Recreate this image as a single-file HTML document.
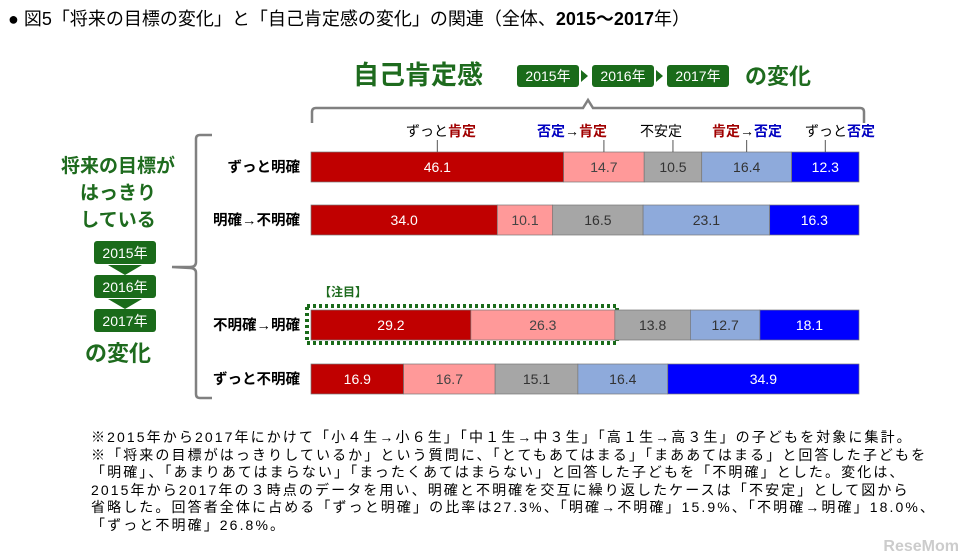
<!DOCTYPE html>
<html><head><meta charset="utf-8"><style>
body{margin:0;background:#fff;}
svg{display:block;font-family:"Liberation Sans","Noto Sans CJK JP",sans-serif;}
.note{position:absolute;left:91px;top:429px;font-family:"Liberation Sans","Noto Sans CJK JP",sans-serif;font-size:14px;letter-spacing:2.1px;line-height:17.6px;color:#000;white-space:pre;}
</style></head><body>
<div style="position:relative;width:965px;height:558px;overflow:hidden">
<svg id="chart" width="965" height="558">
<text x="8" y="25" font-size="18" fill="#000">● 図5「将来の目標の変化」と「自己肯定感の変化」の関連（全体、<tspan font-weight="bold">2015～2017</tspan>年）</text>
<g>
<text x="353" y="84" font-size="26" font-weight="bold" fill="#1e6b1e">自己肯定感</text>
<rect x="517" y="65" width="62" height="22" rx="3" fill="#1a6b1a"/><text x="548" y="81" font-size="14" fill="#fff" text-anchor="middle">2015年</text>
<polygon points="581,70 588,76 581,82" fill="#1a6b1a"/>
<rect x="592" y="65" width="62" height="22" rx="3" fill="#1a6b1a"/><text x="623" y="81" font-size="14" fill="#fff" text-anchor="middle">2016年</text>
<polygon points="656,70 663,76 656,82" fill="#1a6b1a"/>
<rect x="667" y="65" width="62" height="22" rx="3" fill="#1a6b1a"/><text x="698" y="81" font-size="14" fill="#fff" text-anchor="middle">2017年</text>
<text x="745" y="84" font-size="22" font-weight="bold" fill="#1e6b1e">の変化</text>
<path d="M312,123 L312,112 Q312,108 316,108 L583,108 L588,100 L593,108 L860,108 Q864,108 864,112 L864,123" fill="none" stroke="#808080" stroke-width="2.5"/>
</g>
<g>
<text x="118" y="172" font-size="19" font-weight="bold" fill="#1e6b1e" text-anchor="middle">将来の目標が</text>
<text x="118" y="199" font-size="19" font-weight="bold" fill="#1e6b1e" text-anchor="middle">はっきり</text>
<text x="118" y="226" font-size="19" font-weight="bold" fill="#1e6b1e" text-anchor="middle">している</text>
<rect x="94" y="241" width="62" height="23" rx="3" fill="#1a6b1a"/><text x="125" y="258" font-size="14" fill="#fff" text-anchor="middle">2015年</text>
<polygon points="108,265 142,265 125,275" fill="#1a6b1a"/>
<rect x="94" y="275" width="62" height="23" rx="3" fill="#1a6b1a"/><text x="125" y="292" font-size="14" fill="#fff" text-anchor="middle">2016年</text>
<polygon points="108,299 142,299 125,309" fill="#1a6b1a"/>
<rect x="94" y="309" width="62" height="23" rx="3" fill="#1a6b1a"/><text x="125" y="326" font-size="14" fill="#fff" text-anchor="middle">2017年</text>
<text x="118" y="361" font-size="22" font-weight="bold" fill="#1e6b1e" text-anchor="middle">の変化</text>
<path d="M212,135 L200,135 Q196,135 196,139 L196,262 Q196,267 190,267 L172,267 L190,268 Q196,268 196,273 L196,394 Q196,398 200,398 L212,398" fill="none" stroke="#808080" stroke-width="2.5"/>
</g>
<text x="319" y="296" font-size="12" font-weight="bold" fill="#1e6b1e">【注目】</text>
<rect x="307" y="306" width="310" height="37" fill="none" stroke="#1a6b1a" stroke-width="4" stroke-dasharray="3,3"/>
<g id="bars"></g>
</svg>
<div class="note">※2015年から2017年にかけて「小４生→小６生」「中１生→中３生」「高１生→高３生」の子どもを対象に集計。
※「将来の目標がはっきりしているか」という質問に、「とてもあてはまる」「まああてはまる」と回答した子どもを
「明確」、「あまりあてはまらない」「まったくあてはまらない」と回答した子どもを「不明確」とした。変化は、
2015年から2017年の３時点のデータを用い、明確と不明確を交互に繰り返したケースは「不安定」として図から
省略した。回答者全体に占める「ずっと明確」の比率は27.3%、「明確→不明確」15.9%、「不明確→明確」18.0%、
「ずっと不明確」26.8%。</div>
<div style="position:absolute;right:6px;bottom:2px;font:bold 16px 'Liberation Sans',sans-serif;color:#ccc">ReseMom</div>
</div>
<script>
const categories = ["ずっと明確", "明確→不明確", "不明確→明確", "ずっと不明確"];
const seriesNames = ["ずっと肯定", "否定→肯定", "不安定", "肯定→否定", "ずっと否定"];
const s1 = [46.1, 34.0, 29.2, 16.9];
const s2 = [14.7, 10.1, 26.3, 16.7];
const s3 = [10.5, 16.5, 13.8, 15.1];
const s4 = [16.4, 23.1, 12.7, 16.4];
const s5 = [12.3, 16.3, 18.1, 34.9];
const series = [s1, s2, s3, s4, s5];
const colors = ["#c00000", "#ff9999", "#a6a6a6", "#8eaadb", "#0000ff"];
const textColors = ["#fff", "#444", "#333", "#333", "#fff"];
const rowTops = [152, 205, 310, 364];
const X0 = 311, W = 548, H = 30;
const xs = v => v / 100 * W;
const NS = "http://www.w3.org/2000/svg";
const g = document.getElementById("bars");
function mk(t, a) { const e = document.createElementNS(NS, t); for (const k in a) e.setAttribute(k, a[k]); return e; }
categories.forEach((c, i) => {
  const y = rowTops[i];
  const lab = mk("text", { x: 300, y: y + 20, "font-size": 14.5, "font-weight": "bold", "text-anchor": "end", fill: "#000" });
  
  
  lab.textContent = c; g.appendChild(lab);
  let total = 0; series.forEach(s => total += s[i]);
  let acc = 0;
  series.forEach((s, j) => {
    const x = X0 + xs(acc / total * 100), w = xs(s[i] / total * 100);
    const r = mk("rect", { x: x, y: y, width: w, height: H, fill: colors[j], stroke: "#777", "stroke-width": 0.7 });
    
    
    g.appendChild(r);
    const t = mk("text", { x: x + w / 2, y: y + 20, "font-size": 14, "text-anchor": "middle", fill: textColors[j] });
    
    
    t.textContent = s[i].toFixed(1); g.appendChild(t);
    if (i === 0) {
      const cx = x + w / 2;
      const l = mk("line", { x1: cx, y1: 140, x2: cx, y2: y, stroke: "#555", "stroke-width": 1 });
      
      
      g.appendChild(l);
    }
    acc += s[i];
  });
});
const legendItems = [
  [441, [["ずっと", "#000"], ["肯定", "#a00000"]]],
  [572, [["否定", "#0000c0"], ["→", "#000"], ["肯定", "#a00000"]]],
  [661, [["不安定", "#000"]]],
  [747, [["肯定", "#a00000"], ["→", "#000"], ["否定", "#0000c0"]]],
  [840, [["ずっと", "#000"], ["否定", "#0000c0"]]]
];
legendItems.forEach(it => {
  const t = mk("text", { x: it[0], y: 136, "font-size": 14, "text-anchor": "middle" });
  
  
  it[1].forEach(p => { const ts = mk("tspan", { fill: p[1], "font-weight": p[1] === "#000" ? "normal" : "bold" }); ts.textContent = p[0]; t.appendChild(ts); });
  g.appendChild(t);
});
</script>
</body></html>
